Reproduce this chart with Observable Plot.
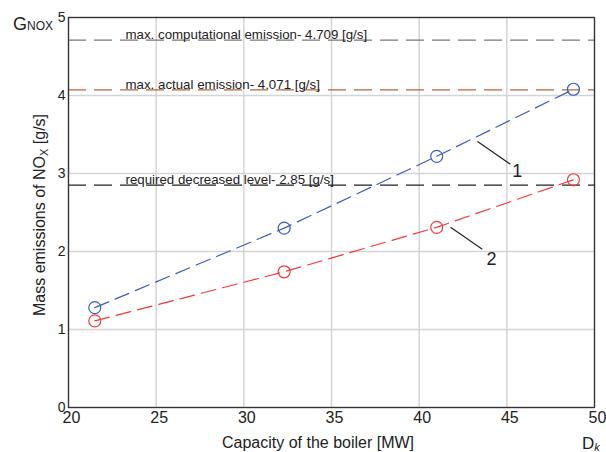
<!DOCTYPE html>
<html><head><meta charset="utf-8">
<script src="https://cdn.jsdelivr.net/npm/d3@7"></script>
<script src="https://cdn.jsdelivr.net/npm/@observablehq/plot@0.6"></script>
<style>body{margin:0;background:#fff;font-family:"Liberation Sans",Arial,sans-serif}</style>
</head><body><div id="chart"></div>
<script>
const capacity = [21.5, 32.3, 41.0, 48.8];
const series1 = [1.28, 2.30, 3.22, 4.08];
const series2 = [1.11, 1.74, 2.31, 2.92];
const refValues = [4.709, 4.071, 2.85];
const refLabels = ["max. computational emission- 4.709 [g/s]", "max. actual emission- 4.071 [g/s]", "required decreased level- 2.85 [g/s]"];
const refColors = ["#777777", "#b5653f", "#222222"];
const xTicks = [20, 25, 30, 35, 40, 45, 50];
const yTicks = [0, 1, 2, 3, 4, 5];
const curveLabels = ["1", "2"];
const labelX = [45.6, 44.13];
const labelY = [3.03, 1.90];
const leaderX1 = [43.33, 41.79];
const leaderY1 = [3.41, 2.31];
const leaderX2 = [45.2, 43.6];
const leaderY2 = [3.12, 2.03];

const s1 = capacity.map((x, i) => ({x, y: series1[i]}));
const s2 = capacity.map((x, i) => ({x, y: series2[i]}));
const refs = refValues.map((v, i) => ({v, label: refLabels[i], color: refColors[i]}));
const lbl = curveLabels.map((t, i) => ({t, x: labelX[i], y: labelY[i], x1: leaderX1[i], y1: leaderY1[i], x2: leaderX2[i], y2: leaderY2[i]}));

const plot = Plot.plot({
  width: 606, height: 452,
  marginLeft: 68, marginRight: 12, marginTop: 17, marginBottom: 45,
  style: {fontFamily: '"Liberation Sans", Arial, sans-serif', color: "#222", overflow: "visible"},
  x: {domain: [20, 50], label: null},
  y: {domain: [0, 5], label: null},
  marks: [
    Plot.gridX(xTicks, {stroke: "#d4d4d4", strokeOpacity: 1, strokeWidth: 1.5}),
    Plot.gridY(yTicks, {stroke: "#d4d4d4", strokeOpacity: 1, strokeWidth: 1.5}),
    Plot.axisX(xTicks, {tickSize: 0, tickPadding: 4, dx: 3, fontSize: 16, label: null}),
    Plot.axisY(yTicks, {tickSize: 0, tickPadding: 3, fontSize: 14, tickFormat: "d", label: null}),
    Plot.ruleY(refs, {y: "v", stroke: "color", strokeWidth: 1.3, strokeDasharray: "18,8"}),
    Plot.text(refs, {x: 23.25, y: "v", text: "label", textAnchor: "start", lineAnchor: "bottom", dy: -1, fontSize: 13.3, fill: "#222"}),
    Plot.line(s1, {x: "x", y: "y", stroke: "#3d5db8", strokeWidth: 1.2, strokeDasharray: "15,7"}),
    Plot.line(s2, {x: "x", y: "y", stroke: "#f03a3a", strokeWidth: 1.2, strokeDasharray: "15,7"}),
    Plot.dot(s1, {x: "x", y: "y", r: 6, stroke: "#3d5db8", strokeWidth: 1.2, fill: "none"}),
    Plot.dot(s2, {x: "x", y: "y", r: 6, stroke: "#f03a3a", strokeWidth: 1.2, fill: "none"}),
    Plot.link(lbl, {x1: "x1", y1: "y1", x2: "x2", y2: "y2", stroke: "#222", strokeWidth: 1.2}),
    Plot.text(lbl, {x: "x", y: "y", text: "t", fontSize: 18, fill: "#222"}),
    Plot.frame({stroke: "#333", strokeWidth: 1.3})
  ]
});
document.getElementById("chart").appendChild(plot);

const svg = d3.select(plot);
const ff = '"Liberation Sans", Arial, sans-serif';
// y axis title
const yt = svg.append("text").attr("transform", "translate(45,215) rotate(-90)")
  .attr("text-anchor", "middle").attr("font-size", 16).attr("font-family", ff).attr("fill", "#222");
yt.append("tspan").text("Mass emissions of NO");
yt.append("tspan").attr("font-size", 11).attr("dy", 3).text("X");
yt.append("tspan").attr("dy", -3).text(" [g/s]");
// x axis title
svg.append("text").attr("x", 318).attr("y", 448).attr("text-anchor", "middle")
  .attr("font-size", 16).attr("font-family", ff).attr("fill", "#222").text("Capacity of the boiler [MW]");
// corner labels
const g = svg.append("text").attr("x", 13).attr("y", 30).attr("text-anchor", "start")
  .attr("font-size", 18).attr("font-family", ff).attr("fill", "#222");
g.append("tspan").text("G");
g.append("tspan").attr("font-size", 12).attr("dy", 0).text("NOX");
const dk = svg.append("text").attr("x", 582).attr("y", 449).attr("text-anchor", "start")
  .attr("font-size", 17).attr("font-family", ff).attr("fill", "#222");
dk.append("tspan").text("D");
dk.append("tspan").attr("font-size", 11).attr("dy", 2).attr("font-style", "italic").text("k");
</script></body></html>
